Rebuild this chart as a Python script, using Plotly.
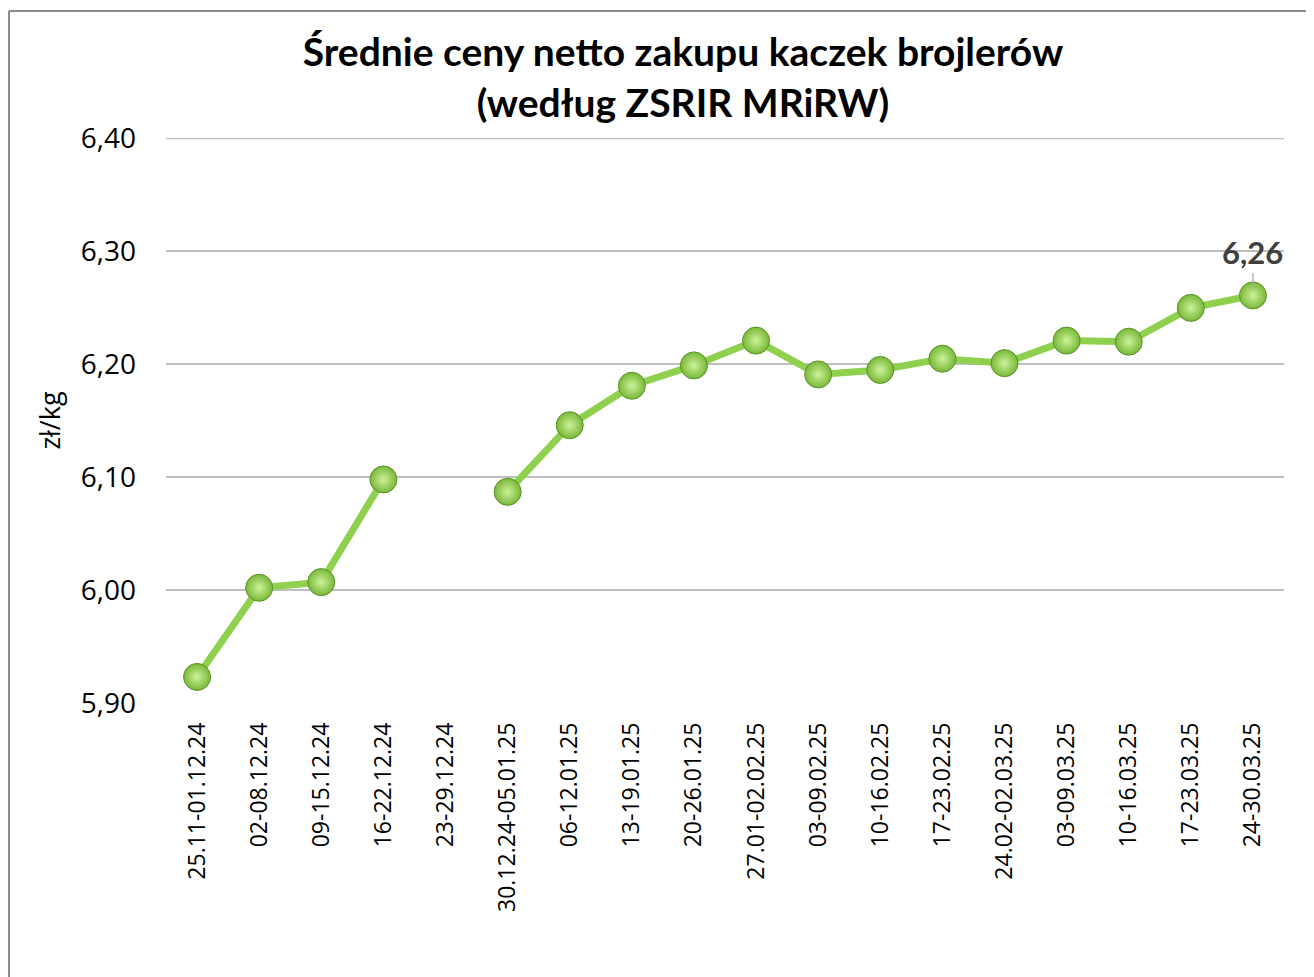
import plotly.graph_objects as go

categories = ["25.11-01.12.24", "02-08.12.24", "09-15.12.24", "16-22.12.24", "23-29.12.24",
              "30.12.24-05.01.25", "06-12.01.25", "13-19.01.25", "20-26.01.25", "27.01-02.02.25",
              "03-09.02.25", "10-16.02.25", "17-23.02.25", "24.02-02.03.25", "03-09.03.25",
              "10-16.03.25", "17-23.03.25", "24-30.03.25"]
prices = [5.923, 6.002, 6.007, 6.098, None, 6.087, 6.146, 6.181, 6.199, 6.221,
          6.191, 6.195, 6.205, 6.201, 6.221, 6.220, 6.250, 6.261]
y_ticks = [5.90, 6.00, 6.10, 6.20, 6.30, 6.40]

OFF = 8  # page body margin
W, H = 1314 - OFF, 977 - OFF
L, T = 166 - OFF, 138 - OFF
R = W - (1284 - OFF)
B = H - (703 - OFF)
pw, ph = W - L - R, H - T - B

def px_x(x):
    return (x - L) / pw

def px_y(y):
    return (H - B - y) / ph

fig = go.Figure()
fig.add_trace(go.Scatter(
    x=categories, y=prices, mode="lines+markers", connectgaps=False,
    line=dict(color="#8fd14f", width=7),
    marker=dict(size=27, color="#78b838",
                gradient=dict(type="radial", color="#cdf29a"),
                line=dict(color="#5b9125", width=1)),
    showlegend=False, hoverinfo="x+y"))

last_x, last_y = categories[-1], prices[-1]
fig.add_annotation(x=last_x, y=last_y, text="<b>%s</b>" % f"{last_y:.2f}".replace(".", ","),
                   showarrow=True, arrowhead=0, arrowwidth=1.2, arrowcolor="#a6a6a6",
                   ax=0, ay=-43, standoff=6,
                   font=dict(family="Lato, sans-serif", size=31, color="#404040"))

# top gridline (6,40) drawn explicitly, plotly skips it at the range edge
fig.add_shape(type="line", xref="paper", yref="y", x0=0, x1=1,
              y0=max(y_ticks), y1=max(y_ticks), layer="below",
              line=dict(color="#bfbfbf", width=1.5))

border = "#8c8c8c"
fig.add_shape(type="line", xref="paper", yref="paper",
              x0=px_x(1), x1=px_x(W + 5), y0=px_y(3), y1=px_y(3),
              line=dict(color=border, width=2))
fig.add_shape(type="line", xref="paper", yref="paper",
              x0=px_x(1), x1=px_x(1), y0=px_y(3), y1=px_y(H + 5),
              line=dict(color=border, width=2))

fig.update_layout(
    width=W, height=H,
    margin=dict(l=L, r=R, t=T, b=B),
    paper_bgcolor="white", plot_bgcolor="white",
    separators=", ",
    title=dict(text="<b>Średnie ceny netto zakupu kaczek brojlerów<br>(według ZSRIR MRiRW)</b>",
               x=(683 - OFF) / W, xanchor="center", xref="container",
               y=1 - (66 - OFF) / H, yanchor="middle", yref="container",
               font=dict(family="Lato, sans-serif", size=39, color="black")),
    xaxis=dict(type="category", tickangle=-90, showgrid=False, showline=False,
               ticks="", ticklabelstandoff=14,
               tickfont=dict(family="Open Sans, sans-serif", size=23, color="black"),
               range=[-0.5, len(categories) - 0.5]),
    yaxis=dict(range=[5.8999, 6.4005], tickvals=y_ticks, tickformat=".2f",
               showgrid=True, gridcolor="#bfbfbf", gridwidth=1.5,
               zeroline=False, showline=False, ticks="", ticklabelstandoff=29,
               tickfont=dict(family="Open Sans, sans-serif", size=28, color="black"),
               title=dict(text="zł/kg", standoff=12,
                          font=dict(family="Open Sans, sans-serif", size=27, color="black"))),
)

fig.write_html("out.html")
